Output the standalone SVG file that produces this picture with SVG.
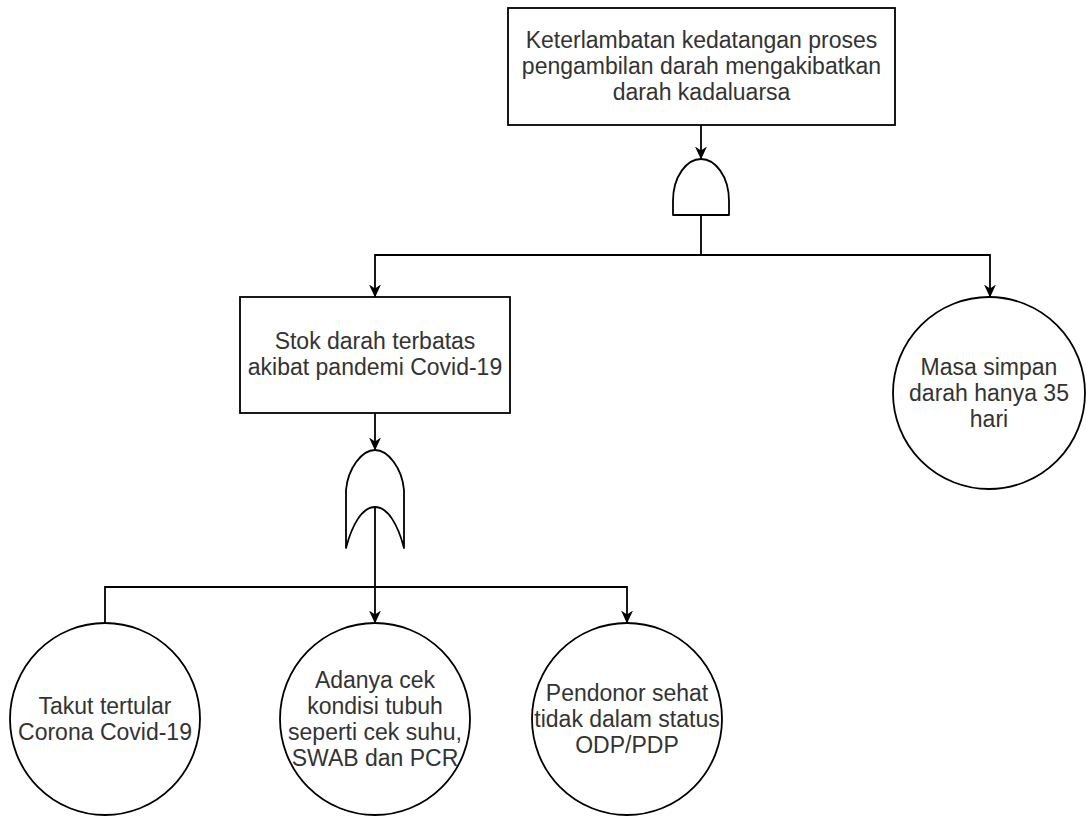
<svg xmlns="http://www.w3.org/2000/svg" width="1086" height="817" viewBox="0 0 1086 817">
<style>
.box{fill:#fff;stroke:#000;stroke-width:1.8}
.gate{fill:#fff;stroke:#000;stroke-width:1.8;stroke-linejoin:round}
.edge{fill:none;stroke:#000;stroke-width:1.8}
.lbl{font-family:"Liberation Sans",Arial,Helvetica,sans-serif;font-size:23px;fill:#333;text-anchor:middle}
</style>
<defs>
<marker id="arr" viewBox="0 0 13 12" refX="12.5" refY="6" markerWidth="13" markerHeight="12" orient="auto" markerUnits="userSpaceOnUse">
<path d="M0,0 L13,6 L0,12 L4,6 z" fill="#000"/>
</marker>
</defs>
<rect width="1086" height="817" fill="#fff"/>
<g id="connectors">
<path class="edge" d="M701,125 V159" marker-end="url(#arr)"/>
<path class="edge" d="M701,215 V255 H375 V297" marker-end="url(#arr)"/>
<path class="edge" d="M701,255 H990 V297" marker-end="url(#arr)"/>
<path class="edge" d="M375,413 V450" marker-end="url(#arr)"/>
<path class="edge" d="M375,507 V623" marker-end="url(#arr)"/>
<path class="edge" d="M375,587 H105 V623"/>
<path class="edge" d="M375,587 H627 V623" marker-end="url(#arr)"/>
</g>
<g id="top-event">
<rect class="box" x="508" y="8" width="387" height="117"/>
<text class="lbl" x="701.5" y="48">Keterlambatan kedatangan proses</text>
<text class="lbl" x="701.5" y="74">pengambilan darah mengakibatkan</text>
<text class="lbl" x="701.5" y="100">darah kadaluarsa</text>
</g>
<g id="and-gate">
<path class="gate" d="M673,215 V201 C673,176 687,159 701,159 C715,159 729,176 729,201 V215 Z"/>
</g>
<g id="stok">
<rect class="box" x="240" y="297" width="270" height="116"/>
<text class="lbl" x="375" y="349">Stok darah terbatas</text>
<text class="lbl" x="375" y="375">akibat pandemi Covid-19</text>
</g>
<g id="or-gate">
<path class="gate" d="M346,548 V490 C348,468 362,450 375,450 C388,450 402,468 404,490 V548 C398,525 388,507 375,507 C362,507 352,525 346,548 Z"/>
</g>
<g id="masa">
<circle class="box" cx="989" cy="393" r="96"/>
<text class="lbl" x="989" y="375">Masa simpan</text>
<text class="lbl" x="989" y="401">darah hanya 35</text>
<text class="lbl" x="989" y="427">hari</text>
</g>
<g id="takut">
<ellipse class="box" cx="105" cy="719" rx="95" ry="96"/>
<text class="lbl" x="105" y="714">Takut tertular</text>
<text class="lbl" x="105" y="740">Corona Covid-19</text>
</g>
<g id="adanya">
<ellipse class="box" cx="375" cy="719" rx="95" ry="96"/>
<text class="lbl" x="375" y="688">Adanya cek</text>
<text class="lbl" x="375" y="714">kondisi tubuh</text>
<text class="lbl" x="375" y="740">seperti cek suhu,</text>
<text class="lbl" x="375" y="766">SWAB dan PCR</text>
</g>
<g id="pendonor">
<ellipse class="box" cx="627" cy="719" rx="95" ry="96"/>
<text class="lbl" x="627" y="701">Pendonor sehat</text>
<text class="lbl" x="627" y="727">tidak dalam status</text>
<text class="lbl" x="627" y="753">ODP/PDP</text>
</g>
</svg>
